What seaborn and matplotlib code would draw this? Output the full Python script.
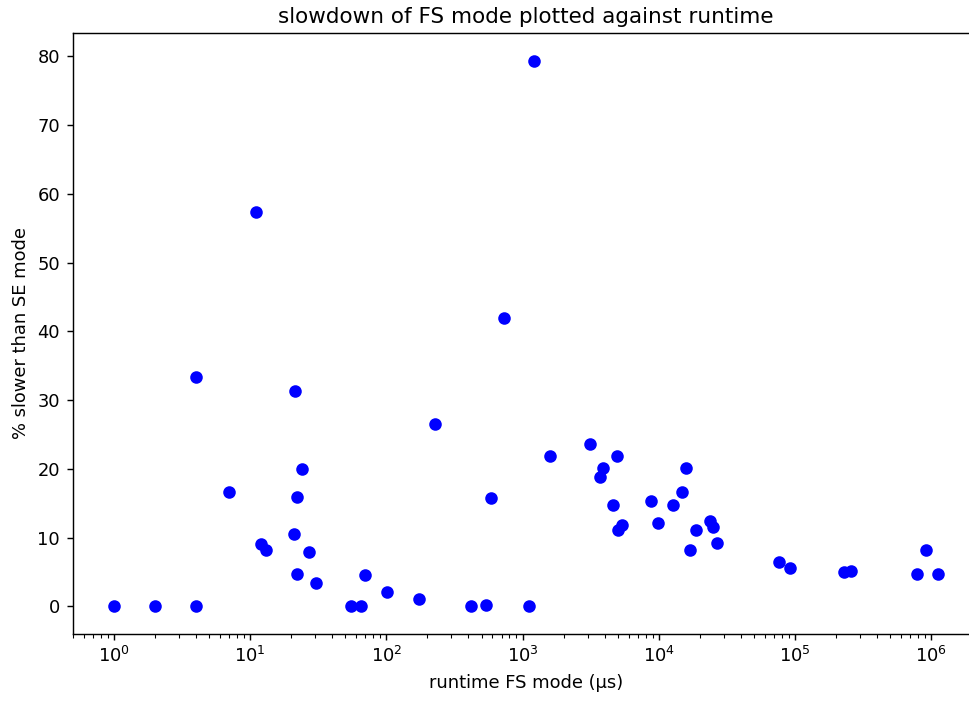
import matplotlib
matplotlib.use("Agg")
import matplotlib.pyplot as plt
import seaborn as sns
import pandas as pd

# runtime in FS mode (microseconds) and slowdown vs SE mode (%)
runtime_us = [
    1, 2, 4, 4, 7, 11, 12, 13.1, 21.2, 21, 22.2, 22, 24.1, 26.9, 30.3,
    55.4, 65.6, 69.3, 101, 174, 228, 421, 536, 586, 731,
    1109, 1213, 1600, 3105, 3692, 3882, 4600, 4922, 5005, 5370,
    8690, 9900, 12760, 14860, 15700, 17000, 18800, 23930, 25050, 26800,
    76700, 91300, 229800, 258600, 784000, 918000, 1117000,
]
slowdown_pct = [
    0, 0, 0, 33.3, 16.6, 57.3, 9.1, 8.25, 31.3, 10.5, 15.85, 4.7, 20.0, 7.9, 3.35,
    0, 0, 4.5, 2.04, 1.12, 26.6, 0, 0.2, 15.7, 41.9,
    0, 79.4, 21.9, 23.6, 18.8, 20.1, 14.7, 21.9, 11.1, 11.9,
    15.3, 12.1, 14.7, 16.6, 20.2, 8.25, 11.1, 12.4, 11.5, 9.2,
    6.4, 5.6, 5.0, 5.2, 4.7, 8.25, 4.7,
]

df = pd.DataFrame({"runtime": runtime_us, "slowdown": slowdown_pct})

dpi = 129
fig = plt.figure(figsize=(969 / dpi, 702 / dpi), dpi=dpi)
# axes runs a little past the right edge, like the cropped original
ax = fig.add_axes([0.0751, 0.0973, 0.9352, 0.8553])

sns.scatterplot(data=df, x="runtime", y="slowdown", ax=ax,
                color="blue", edgecolor="blue", linewidth=1, s=36)
ax.set_xscale("log")

ax.set_title("slowdown of FS mode plotted against runtime")
ax.set_xlabel("runtime FS mode (µs)")
ax.set_ylabel("% slower than SE mode")

fig.savefig("out.png", dpi=dpi)
